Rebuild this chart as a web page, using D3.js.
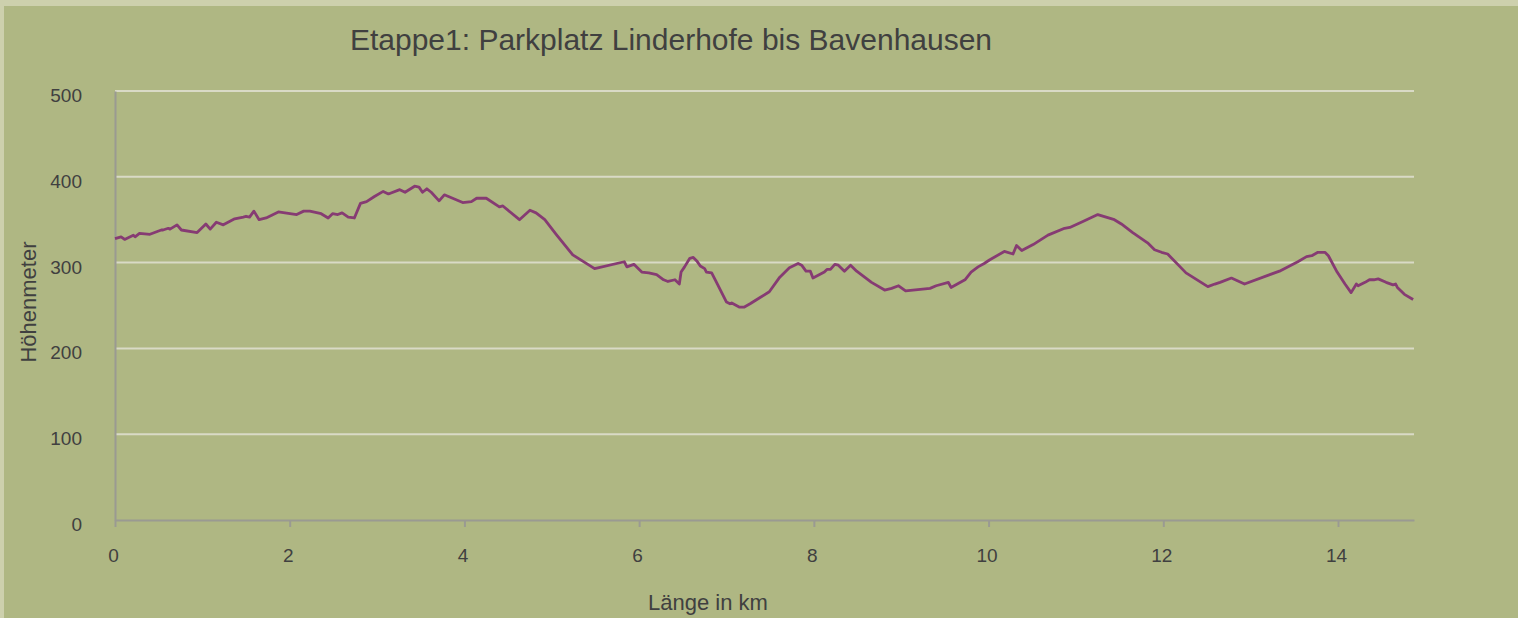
<!DOCTYPE html>
<html>
<head>
<meta charset="utf-8">
<script src="https://cdn.jsdelivr.net/npm/d3@7"></script>
<style>
  html, body { margin: 0; padding: 0; background: #cdd0ad; }
  svg { display: block; }
  text { font-family: "Liberation Sans", Arial, sans-serif; fill: #404040; }
</style>
</head>
<body>
<script>
// distance along the route (km) and elevation (m)
var km = [0, 0.07, 0.11, 0.21, 0.23, 0.28, 0.40, 0.53, 0.55, 0.61, 0.63, 0.71, 0.76, 0.94, 1.04, 1.09, 1.16, 1.24, 1.37, 1.47,
  1.50, 1.54, 1.59, 1.65, 1.73, 1.87, 2.08, 2.16, 2.23, 2.36, 2.44, 2.49, 2.55, 2.60, 2.67, 2.74, 2.81, 2.88, 2.97, 3.07,
  3.13, 3.26, 3.32, 3.43, 3.48, 3.52, 3.57, 3.62, 3.71, 3.77, 3.98, 4.08, 4.14, 4.25, 4.40, 4.44, 4.63, 4.75, 4.82, 4.92,
  5.05, 5.24, 5.49, 5.83, 5.86, 5.94, 6.03, 6.11, 6.20, 6.28, 6.33, 6.41, 6.46, 6.48, 6.52, 6.58, 6.62, 6.66, 6.70, 6.75,
  6.77, 6.83, 6.88, 7.00, 7.04, 7.06, 7.15, 7.20, 7.27, 7.38, 7.49, 7.61, 7.72, 7.82, 7.86, 7.91, 7.96, 7.99, 8.12, 8.15,
  8.19, 8.24, 8.28, 8.35, 8.42, 8.49, 8.66, 8.81, 8.89, 8.97, 9.05, 9.33, 9.40, 9.54, 9.57, 9.73, 9.80, 9.88, 9.95, 10.01,
  10.18, 10.28, 10.32, 10.38, 10.51, 10.68, 10.87, 10.93, 11.08, 11.25, 11.44, 11.52, 11.65, 11.82, 11.90, 11.98, 12.05, 12.26, 12.51, 12.59,
  12.65, 12.78, 12.93, 13.22, 13.33, 13.54, 13.64, 13.70, 13.77, 13.85, 13.89, 13.99, 14.08, 14.15, 14.21, 14.23, 14.31, 14.36, 14.41, 14.46,
  14.55, 14.63, 14.66, 14.68, 14.76, 14.86];
var hoehe = [328, 330, 327, 332, 330, 334, 333, 338, 338, 340, 339, 344, 338, 335, 345, 339, 347, 344, 351, 353,
  354, 353, 360, 350, 352, 359, 356, 360, 360, 357, 352, 357, 356, 358, 353, 352, 369, 371, 377, 383,
  380, 385, 382, 389, 388, 382, 386, 382, 372, 379, 370, 371, 375, 375, 365, 366, 350, 361, 358, 350,
  333, 309, 293, 301, 295, 298, 289, 288, 286, 280, 278, 280, 275, 289, 295, 305, 306, 302, 296, 293,
  289, 288, 278, 254, 252, 253, 248, 248, 252, 259, 266, 283, 294, 299, 297, 290, 290, 282, 289, 292,
  292, 298, 297, 290, 297, 290, 277, 268, 270, 273, 267, 270, 273, 277, 271, 280, 289, 295, 299, 303,
  313, 310, 320, 314, 321, 332, 340, 341, 348, 356, 350, 345, 335, 323, 315, 312, 310, 288, 272, 275,
  277, 282, 275, 286, 290, 301, 307, 308, 312, 312, 308, 289, 275, 265, 275, 273, 277, 280, 280, 281,
  277, 274, 275, 271, 263, 257];

var yTicks = [0, 100, 200, 300, 400, 500];
var xTicks = [0, 2, 4, 6, 8, 10, 12, 14];

var W = 1518, H = 618;
var mLeft = 115, mRight = 1414, mTop = 91, mBottom = 520;

var svg = d3.select('body')
  .append('svg')
  .attr('width', W)
  .attr('height', H);

// inner panel (light band only on top and left)
svg.append('rect')
  .attr('x', 4).attr('y', 6)
  .attr('width', W - 4).attr('height', H - 6)
  .attr('fill', '#afb783');

var x = d3.scaleLinear().domain([0, 14.87]).range([mLeft, mRight]);
var y = d3.scaleLinear().domain([0, 500]).range([mBottom, mTop]);

// gridlines
svg.append('g')
  .selectAll('line.grid')
  .data(yTicks.filter(function(d) { return d > 0; }))
  .enter().append('line')
  .attr('class', 'grid')
  .attr('x1', mLeft).attr('x2', mRight)
  .attr('y1', function(d) { return y(d); })
  .attr('y2', function(d) { return y(d); })
  .attr('stroke', '#d9dac6')
  .attr('stroke-width', 2);

// y axis
var yAxis = svg.append('g')
  .attr('transform', 'translate(' + mLeft + ',0)')
  .call(d3.axisLeft(y).tickValues(yTicks).tickSize(0).tickPadding(33));
yAxis.select('.domain').attr('stroke', '#9a9a92').attr('stroke-width', 2);
yAxis.selectAll('text').attr('font-size', 19).attr('fill', '#404040')
  .attr('dy', '0.55em')
  .style('font-family', '"Liberation Sans", Arial, sans-serif');

// x axis
var xAxis = svg.append('g')
  .attr('transform', 'translate(0,' + mBottom + ')')
  .call(d3.axisBottom(x).tickValues(xTicks).tickSize(7).tickSizeOuter(0).tickPadding(22));
xAxis.select('.domain').attr('stroke', '#9a9a92').attr('stroke-width', 2);
xAxis.selectAll('.tick line').attr('stroke', '#9a9a92').attr('stroke-width', 2);
xAxis.selectAll('text').attr('font-size', 19).attr('fill', '#404040')
  .attr('dx', -2)
  .style('font-family', '"Liberation Sans", Arial, sans-serif');

// profile line
var line = d3.line()
  .x(function(d, i) { return x(km[i]); })
  .y(function(d) { return y(d); });

svg.append('path')
  .datum(hoehe)
  .attr('d', line)
  .attr('fill', 'none')
  .attr('stroke', '#863b73')
  .attr('stroke-width', 2.8)
  .attr('stroke-linejoin', 'round');

// titles
svg.append('text')
  .attr('x', 671).attr('y', 50)
  .attr('text-anchor', 'middle')
  .attr('font-size', 30)
  .text('Etappe1: Parkplatz Linderhofe bis Bavenhausen');

svg.append('text')
  .attr('x', 708).attr('y', 610)
  .attr('text-anchor', 'middle')
  .attr('font-size', 22)
  .text('Länge in km');

svg.append('text')
  .attr('transform', 'translate(36,302) rotate(-90)')
  .attr('text-anchor', 'middle')
  .attr('font-size', 22)
  .text('Höhenmeter');
</script>
</body>
</html>
